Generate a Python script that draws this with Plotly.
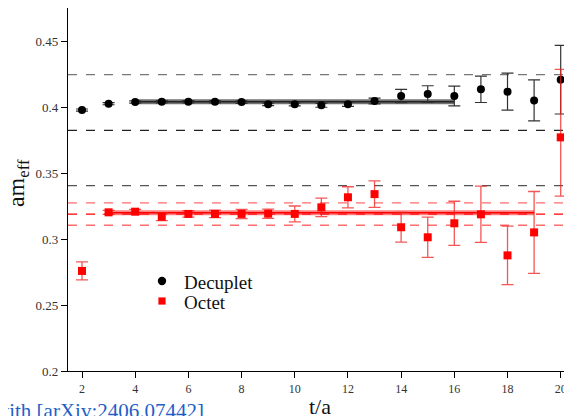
import plotly.graph_objects as go

# ---- data ----
t_dec = [2, 3, 4, 5, 6, 7, 8, 9, 10, 11, 12, 13, 14, 15, 16, 17, 18, 19, 20]
dec_val = [0.3977, 0.4025, 0.4038, 0.4040, 0.4040, 0.4040, 0.4037, 0.4020, 0.4020, 0.4013,
           0.4020, 0.4045, 0.4083, 0.4098, 0.4083, 0.4134, 0.4116, 0.4050, 0.4207]
dec_err_up = [0.0008, 0.0008, 0.0008, 0.0008, 0.0008, 0.0008, 0.0009, 0.0010, 0.0012, 0.0015,
              0.0016, 0.0022, 0.0050, 0.0063, 0.0075, 0.0100, 0.0140, 0.0155, 0.0260]
dec_err_dn = dec_err_up

t_oct = [2, 3, 4, 5, 6, 7, 8, 9, 10, 11, 12, 13, 14, 15, 16, 17, 18, 19, 20]
oct_val = [0.2758, 0.3202, 0.3207, 0.3169, 0.3190, 0.3190, 0.3190, 0.3192, 0.3190, 0.3240,
           0.3316, 0.3340, 0.3089, 0.3013, 0.3119, 0.3187, 0.2876, 0.3050, 0.3770]
oct_err_up = [0.0068, 0.0015, 0.0018, 0.0030, 0.0025, 0.0028, 0.0035, 0.0035, 0.0060, 0.0070,
              0.0080, 0.0100, 0.0112, 0.0152, 0.0167, 0.0213, 0.0222, 0.0310, 0.0515]
oct_err_dn = [0.0068, 0.0015, 0.0018, 0.0030, 0.0025, 0.0028, 0.0035, 0.0035, 0.0060, 0.0070,
              0.0080, 0.0100, 0.0112, 0.0152, 0.0167, 0.0213, 0.0222, 0.0310, 0.0445]

series_names = ["Decuplet", "Octet"]

# plateau fits
dec_fit_t = [4, 16]
dec_fit_val = 0.4040
oct_fit_t = [3, 19]
oct_fit_val = 0.3198

# reference (dashed) levels
dec_ref_lines = [0.4245, 0.3823, 0.3404]
dec_ref_colors = ["#777777", "#222222", "#555555"]
oct_ref_lines = [0.3273, 0.3189, 0.3104]
oct_ref_colors = ["rgba(255,60,60,0.75)", "rgba(255,0,0,1)", "rgba(255,60,60,0.75)"]

x_ticks = [2, 4, 6, 8, 10, 12, 14, 16, 18, 20]
y_ticks = [0.2, 0.25, 0.3, 0.35, 0.4, 0.45]
y_tick_text = ["0.2", "0.25", "0.3", "0.35", "0.4", "0.45"]

SERIF = "Times New Roman, Liberation Serif, serif"

fig = go.Figure()

# dashed reference lines
for v, c in zip(dec_ref_lines + oct_ref_lines, dec_ref_colors + oct_ref_colors):
    fig.add_hline(y=v, line=dict(color=c, width=1.3, dash="dash"), layer="below")

# fit bands
fig.add_trace(go.Scatter(x=dec_fit_t, y=[dec_fit_val] * 2, mode="lines",
                         line=dict(color="rgba(90,90,90,0.85)", width=5),
                         showlegend=False, hoverinfo="skip"))
fig.add_trace(go.Scatter(x=dec_fit_t, y=[dec_fit_val] * 2, mode="lines",
                         line=dict(color="#222222", width=1.5),
                         showlegend=False, hoverinfo="skip"))
fig.add_trace(go.Scatter(x=oct_fit_t, y=[oct_fit_val] * 2, mode="lines",
                         line=dict(color="rgba(255,40,40,0.6)", width=5),
                         showlegend=False, hoverinfo="skip"))
fig.add_trace(go.Scatter(x=oct_fit_t, y=[oct_fit_val] * 2, mode="lines",
                         line=dict(color="#ff0000", width=1.5),
                         showlegend=False, hoverinfo="skip"))

# data series
fig.add_trace(go.Scatter(
    x=t_dec, y=dec_val, mode="markers", name=series_names[0], cliponaxis=False,
    showlegend=False,
    marker=dict(symbol="circle", size=8, color="black"),
    error_y=dict(type="data", symmetric=False, array=dec_err_up, arrayminus=dec_err_dn,
                 color="#333333", thickness=1.2, width=6),
))
fig.add_trace(go.Scatter(
    x=t_oct, y=oct_val, mode="markers", name=series_names[1], cliponaxis=False,
    showlegend=False,
    marker=dict(symbol="square", size=8, color="#ff0000"),
    error_y=dict(type="data", symmetric=False, array=oct_err_up, arrayminus=oct_err_dn,
                 color="rgba(240,30,30,0.75)", thickness=1.3, width=6),
))

# compact legend (marker glyph shapes + labels), positioned in paper coordinates
PW, PH = 504.0, 363.0
leg_x_marker = 0.1865
leg_x_text = 0.2262
leg_rows = [0.2479, 0.1928]
rx, ry = 4.2 / PW, 4.2 / PH
sx, sy = 3.6 / PW, 3.6 / PH
fig.add_shape(type="circle", xref="paper", yref="paper",
              x0=leg_x_marker - rx, x1=leg_x_marker + rx,
              y0=leg_rows[0] - ry, y1=leg_rows[0] + ry,
              fillcolor="black", line=dict(width=0))
fig.add_shape(type="rect", xref="paper", yref="paper",
              x0=leg_x_marker - sx, x1=leg_x_marker + sx,
              y0=leg_rows[1] - sy, y1=leg_rows[1] + sy,
              fillcolor="#ff0000", line=dict(width=0))
for name, yr in zip(series_names, leg_rows):
    fig.add_annotation(text=name, xref="paper", yref="paper", x=leg_x_text, y=yr - 1.5 / PH,
                       xanchor="left", yanchor="middle", showarrow=False,
                       font=dict(family=SERIF, size=19, color="#111111"))

# axis titles
fig.add_annotation(text="t/a", xref="paper", yref="paper", x=0.5, y=-0.099,
                   xanchor="center", yanchor="middle", showarrow=False,
                   font=dict(family=SERIF, size=22, color="#111111"))
fig.add_annotation(text="am<sub>eff</sub>", xref="paper", yref="paper", x=-0.099, y=0.518,
                   xanchor="center", yanchor="middle", textangle=-90, showarrow=False,
                   font=dict(family=SERIF, size=24, color="#111111"))

# partially visible slide text at bottom-left
fig.add_annotation(text="with [arXiv:2406.07442]", xref="paper", yref="paper",
                   x=0.274, y=-0.0715, xanchor="right", yanchor="top",
                   showarrow=False, font=dict(family=SERIF, size=21, color="#1f5fc8"))

fig.update_layout(
    width=564, height=408,
    margin=dict(l=60, r=0, t=0, b=45, autoexpand=False),
    paper_bgcolor="white", plot_bgcolor="white",
    font=dict(family=SERIF, color="#333333", size=12),
    showlegend=False,
)
fig.update_xaxes(
    range=[1.4735, 20.425], tickvals=x_ticks, ticks="outside", ticklen=6,
    tickcolor="black", showgrid=False, zeroline=False, automargin=False,
    showline=True, linecolor="black", linewidth=1.2, mirror=True,
    tickfont=dict(family=SERIF, size=12, color="#333333"),
)
fig.update_yaxes(
    range=[0.2, 0.475], tickvals=y_ticks, ticktext=y_tick_text,
    ticks="outside", ticklen=6, tickcolor="black", showgrid=False, zeroline=False,
    automargin=False,
    showline=True, linecolor="black", linewidth=1.2, mirror=True,
    tickfont=dict(family=SERIF, size=13, color="#333333"),
)

fig.write_html("out.html")
